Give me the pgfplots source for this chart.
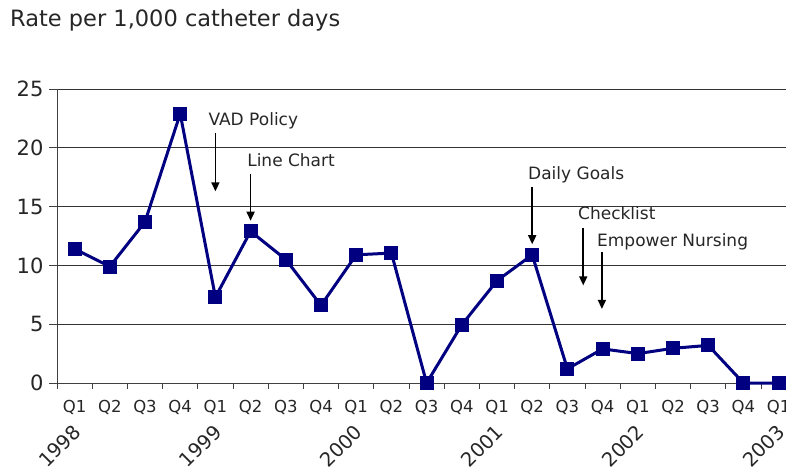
\documentclass[border=0pt]{standalone}
\usepackage{fontspec}
\setmainfont{DejaVu Sans}
\usepackage{pgfplots}
\pgfplotsset{compat=1.18}
\usetikzlibrary{arrows.meta}
\definecolor{navyline}{HTML}{000080}

\begin{document}
\begin{tikzpicture}
\useasboundingbox (0,0) rectangle (786pt,472pt);
\node[anchor=base west, inner sep=0pt, font=\fontsize{22.5}{26}\selectfont, text=black!85]
  at (10pt,445pt) {Rate per 1,000 catheter days};
\begin{axis}[
  at={(57pt,89pt)}, anchor=south west,
  scale only axis, width=729pt, height=294pt,
  xmin=-0.5, xmax=20.21, ymin=0, ymax=25,
  axis x line*=bottom, axis y line*=left,
  axis line style={draw=black!75, line width=1pt},
  ytick={0,5,...,25},
  ymajorgrids, grid style={draw=black!80, line width=0.8pt},
  xtick={0,...,20},
  xticklabels={Q1,Q2,Q3,Q4,Q1,Q2,Q3,Q4,Q1,Q2,Q3,Q4,Q1,Q2,Q3,Q4,Q1,Q2,Q3,Q4,Q1},
  minor xtick={-0.5,0.5,...,20.5},
  major x tick style={draw=none},
  minor x tick style={draw=black!75, line width=0.8pt},
  y tick style={draw=black!75, line width=0.8pt},
  tick align=outside, major tick length=8pt, minor tick length=6pt,
  xticklabel style={font=\fontsize{16.5}{18}\selectfont, text=black!85, yshift=-6pt},
  yticklabel style={font=\fontsize{21}{24}\selectfont, text=black!85, xshift=-2pt},
  /pgf/number format/assume math mode=true,
  clip=false,
]
\addplot[navyline, line width=3pt, mark=square*, mark size=6.5pt,
  mark options={fill=navyline, draw=navyline, line width=0pt}]
  table[row sep=\\] {
    x y \\
    0 11.4 \\ 1 9.9 \\ 2 13.7 \\ 3 22.9 \\
    4 7.3 \\ 5 12.9 \\ 6 10.5 \\ 7 6.6 \\
    8 10.9 \\ 9 11.05 \\ 10 0 \\ 11 4.95 \\
    12 8.7 \\ 13 10.9 \\ 14 1.2 \\ 15 2.9 \\
    16 2.5 \\ 17 2.95 \\ 18 3.2 \\ 19 0 \\
    20 0 \\
  };
% year labels
\foreach \i/\yr in {0/1998,4/1999,8/2000,12/2001,16/2002,20/2003}{
  \edef\tmp{\noexpand\node[rotate=45, font=\noexpand\fontsize{19.5}{22}\noexpand\selectfont, text=black!85]
    at ([xshift=-15pt,yshift=-63pt]axis cs:\i,0) {\yr};}
  \tmp
}
% annotations
\tikzset{ann/.style={anchor=base west, inner sep=0pt, font=\fontsize{17}{20}\selectfont, text=black!85},
         arr/.style={-{Triangle[length=9pt,width=8pt]}, line width=1.6pt, black}}
\node[ann] at (axis cs:3.8,21.9) {VAD Policy};
\draw[arr] (axis cs:4,21.3) -- (axis cs:4,16.3);
\node[ann] at (axis cs:4.9,18.4) {Line Chart};
\draw[arr] (axis cs:5,17.8) -- (axis cs:5,13.8);
\node[ann] at (axis cs:12.88,17.3) {Daily Goals};
\draw[arr] (axis cs:13,16.7) -- (axis cs:13,11.8);
\node[ann] at (axis cs:14.3,13.9) {Checklist};
\draw[arr] (axis cs:14.45,13.2) -- (axis cs:14.45,8.3);
\node[ann] at (axis cs:14.84,11.6) {Empower Nursing};
\draw[arr] (axis cs:14.98,11.1) -- (axis cs:14.98,6.3);
\end{axis}
\end{tikzpicture}
\end{document}
